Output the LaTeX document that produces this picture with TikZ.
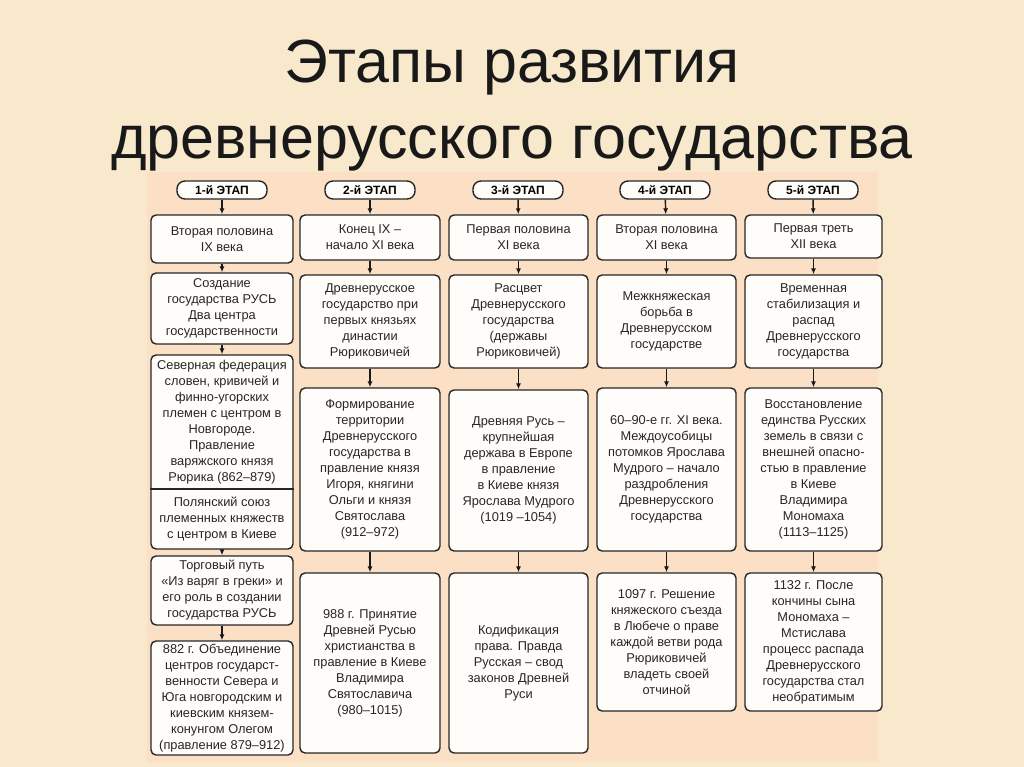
\documentclass[tikz,border=0pt]{standalone}
\usepackage{fontspec}
\setmainfont{Liberation Sans}
\usetikzlibrary{arrows.meta}
\begin{document}
\begin{tikzpicture}[x=1pt,y=-1pt,
  bx/.style={draw=black!85,line width=1.4pt,rounded corners=5pt,fill=white!70!orange!6,align=center,inner sep=0pt,font=\fontsize{12.8}{16}\selectfont,text=black!85},
  pill/.style={draw=black!85,line width=1.4pt,rounded corners=8pt,fill=white!70!orange!6,font=\bfseries\fontsize{12}{13}\selectfont,minimum width=90pt,minimum height=18pt,inner sep=0pt},
  arr/.style={-{Latex[length=6pt,width=5pt]},line width=1.4pt,black!90}]
\fill[yellow!35!orange!12!white!90!brown] (0,0) rectangle (1024,767);
\fill[orange!20!white!95!brown] (147,172) rectangle (878,762);
\node[font=\fontsize{61}{76}\selectfont,align=center,text=black!90] (title) at (512,106) {Этапы развития\\древнерусского государства};
\newcommand\bxn[6]{\node[bx,minimum width={#4-#2},minimum height={#5-#3}] (#1) at ({(#2+#4)/2},{(#3+#5)/2}) {#6};}
% pills
\node[pill] (p1) at (222,190) {1-й ЭТАП};
\node[pill] (p2) at (370,190) {2-й ЭТАП};
\node[pill] (p3) at (518,190) {3-й ЭТАП};
\node[pill] (p4) at (665,190) {4-й ЭТАП};
\node[pill] (p5) at (813,190) {5-й ЭТАП};
% column 1
\bxn{a1}{151}{215}{293}{263}{Вторая половина\\IX века}
\bxn{a2}{151}{273}{293}{344}{Создание\\государства РУСЬ\\Два центра\\государственности}
\bxn{a3}{151}{355}{293}{549}{}
\node[align=center,font=\fontsize{12.8}{16}\selectfont,text=black!85,inner sep=0pt] (a3t) at (222,422) {Северная федерация\\словен, кривичей и\\финно-угорских\\племен с центром в\\Новгороде.\\Правление\\варяжского князя\\Рюрика (862–879)};
\draw[line width=1.2pt,black!85] (a3.west |- 0,489) coordinate (dl) -- (a3.east |- 0,489) coordinate (dr);
\node[align=center,font=\fontsize{12.8}{16}\selectfont,text=black!85,inner sep=0pt] (a3b) at (222,519) {Полянский союз\\племенных княжеств\\с центром в Киеве};
\bxn{a4}{151}{556}{293}{625}{Торговый путь\\«Из варяг в греки» и\\его роль в создании\\государства РУСЬ}
\bxn{a5}{151}{641}{293}{755}{882 г. Объединение\\центров государст-\\венности Севера и\\Юга новгородским и\\киевским князем-\\конунгом Олегом\\(правление 879–912)}
% column 2
\bxn{b1}{300}{215}{440}{260}{Конец IX –\\начало XI века}
\bxn{b2}{300}{275}{440}{368}{Древнерусское\\государство при\\первых князьях\\династии\\Рюриковичей}
\bxn{b3}{300}{388}{440}{551}{Формирование\\территории\\Древнерусского\\государства в\\правление князя\\Игоря, княгини\\Ольги и князя\\Святослава\\(912–972)}
\bxn{b4}{300}{573}{440}{753}{988 г. Принятие\\Древней Русью\\христианства в\\правление в Киеве\\Владимира\\Святославича\\(980–1015)}
% column 3
\bxn{c1}{449}{215}{588}{260}{Первая половина\\XI века}
\bxn{c2}{449}{275}{588}{368}{Расцвет\\Древнерусского\\государства\\(державы\\Рюриковичей)}
\bxn{c3}{449}{390}{588}{551}{Древняя Русь –\\крупнейшая\\держава в Европе\\в правление\\в Киеве князя\\Ярослава Мудрого\\(1019 –1054)}
\bxn{c4}{449}{573}{588}{753}{Кодификация\\права. Правда\\Русская – свод\\законов Древней\\Руси}
% column 4
\bxn{d1}{597}{215}{736}{260}{Вторая половина\\XI века}
\bxn{d2}{597}{275}{736}{368}{Межкняжеская\\борьба в\\Древнерусском\\государстве}
\bxn{d3}{597}{388}{736}{551}{60–90-е гг. XI века.\\Междоусобицы\\потомков Ярослава\\Мудрого – начало\\раздробления\\Древнерусского\\государства}
\bxn{d4}{597}{573}{736}{711}{1097 г. Решение\\княжеского съезда\\в Любече о праве\\каждой ветви рода\\Рюриковичей\\владеть своей\\отчиной}
% column 5
\bxn{e1}{745}{215}{882}{258}{Первая треть\\XII века}
\bxn{e2}{745}{275}{882}{368}{Временная\\стабилизация и\\распад\\Древнерусского\\государства}
\bxn{e3}{745}{388}{882}{551}{Восстановление\\единства Русских\\земель в связи с\\внешней опасно-\\стью в правление\\в Киеве\\Владимира\\Мономаха\\(1113–1125)}
\bxn{e4}{745}{573}{882}{711}{1132 г. После\\кончины сына\\Мономаха –\\Мстислава\\процесс распада\\Древнерусского\\государства стал\\необратимым}
% arrows
\foreach \p/\a/\b/\c/\d/\e in {p1/a1/a2/a3/a4/a5}{
  \draw[arr] (\p) -- (\a); \draw[arr] (\a) -- (\b); \draw[arr] (\b) -- (\c);
  \draw[arr] (\c) -- (\d); \draw[arr] (\d) -- (\e);}
\foreach \p/\a/\b/\c/\d in {p2/b1/b2/b3/b4,p3/c1/c2/c3/c4,p4/d1/d2/d3/d4,p5/e1/e2/e3/e4}{
  \draw[arr] (\p) -- (\a); \draw[arr] (\a) -- (\b); \draw[arr] (\b) -- (\c);
  \draw[arr] (\c) -- (\d);}
\end{tikzpicture}
\end{document}
